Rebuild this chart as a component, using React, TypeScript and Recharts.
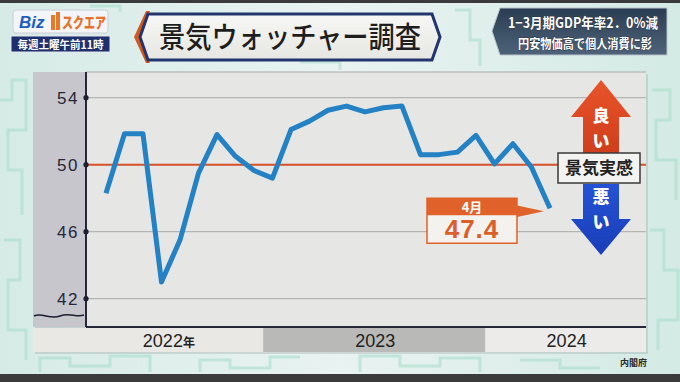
import React from 'react';
import {
  LineChart,
  Line,
  XAxis,
  YAxis,
  CartesianGrid,
  ReferenceLine,
  ReferenceArea,
  ReferenceDot,
} from 'recharts';

// ---- data ----
const categories = [
  '2022/4', '2022/5', '2022/6', '2022/7', '2022/8', '2022/9', '2022/10', '2022/11', '2022/12',
  '2023/1', '2023/2', '2023/3', '2023/4', '2023/5', '2023/6', '2023/7', '2023/8', '2023/9',
  '2023/10', '2023/11', '2023/12', '2024/1', '2024/2', '2024/3', '2024/4',
];
const watcherDI = [
  48.3, 51.85, 51.85, 43.0, 45.5, 49.5, 51.8, 50.5, 49.65,
  49.2, 52.1, 52.6, 53.25, 53.5, 53.15, 53.4, 53.5, 50.6,
  50.6, 50.75, 51.75, 50.05, 51.25, 49.85, 47.4,
];
const yTicks = [42, 46, 50, 54];
const baselineValue = 50;
const yearLabels = ['2022年', '2023', '2024'];
const yearLabelPos = [3.4, 14.56, 24.9];
const yearBandStart = [-3.95, 8.5, 20.5];
const yearBandEnd = [8.5, 20.5, 29.19];
const latestMonthLabel = '4月';
const latestValueLabel = '47.4';

const data = categories.map((m, i) => ({ i, month: m, v: watcherDI[i] }));

const JP = '"Noto Sans CJK JP", "Noto Sans", sans-serif';
const NUM = '"Liberation Sans", Arial, sans-serif';

const bandFills = ['#e9e8e5', '#b9b9b8', '#ecebe9'];

const YTick = (props: any) => {
  const { x, y, payload } = props;
  return (
    <g>
      <text
        x={x - 7}
        y={y}
        dy={6}
        textAnchor="end"
        fontSize={17}
        letterSpacing={1.5}
        fill="#25273a"
        fontFamily={NUM}
      >
        {payload.value}
      </text>
      <circle cx={x} cy={y} r={2.6} fill="#1c1e33" />
    </g>
  );
};

const XTick = (props: any) => {
  const { x, y, index } = props;
  const label: string = yearLabels[index] ?? '';
  const hasNen = label.endsWith('年');
  const num = hasNen ? label.slice(0, -1) : label;
  return (
    <text
      x={x}
      y={y + 20}
      textAnchor="middle"
      fontSize={18}
      fill="#222"
      fontFamily={NUM}
    >
      {num}
      {hasNen && (
        <tspan fontSize={12} fontFamily={JP} fontWeight={700}>
          年
        </tspan>
      )}
    </text>
  );
};

const Callout = (props: any) => {
  const { cx, cy } = props;
  if (cx == null || cy == null) return <g />;
  const left = cx - 123;
  const right = cx - 33;
  const top = cy - 10;
  const mid = (left + right) / 2;
  return (
    <g>
      <polygon
        points={`${right - 1},${cy - 3} ${right - 1},${cy + 9} ${cx - 6},${cy + 3}`}
        fill="#e0622a"
      />
      <rect x={left} y={top} width={right - left} height={45} fill="#f4f2ee" stroke="#e0622a" strokeWidth={1.5} />
      <rect x={left} y={top} width={right - left} height={17} fill="#e0622a" />
      <text
        x={mid}
        y={top + 13.5}
        textAnchor="middle"
        fontSize={13}
        fontWeight={700}
        fill="#fff"
        fontFamily={JP}
      >
        {latestMonthLabel}
      </text>
      <text
        x={mid}
        y={top + 40}
        textAnchor="middle"
        fontSize={26}
        fontWeight={700}
        letterSpacing={1}
        fill="#d9602a"
        fontFamily={NUM}
      >
        {latestValueLabel}
      </text>
    </g>
  );
};

const Background = () => (
  <svg width={680} height={382} style={{ position: 'absolute', left: 0, top: 0 }}>
    <defs>
      <linearGradient id="bg" x1="0" y1="0" x2="1" y2="0">
        <stop offset="0" stopColor="#d6ebe6" />
        <stop offset="0.5" stopColor="#e9f3f1" />
        <stop offset="1" stopColor="#d4eae4" />
      </linearGradient>
    </defs>
    <rect x={0} y={0} width={680} height={382} fill="url(#bg)" />
    <g fill="none" stroke="#a9dfcb" strokeWidth={3} opacity={0.6}>
      <path d="M0,100 L12,100 L12,80 L26,80 L26,130 L8,130 L8,170 L22,170 L22,215" />
      <path d="M4,240 L20,240 L20,280 L8,280 L8,330 L26,330 L26,360" />
      <path d="M40,372 L40,358 L70,358 L70,366 L110,366 L110,356 L150,356 L150,372" />
      <path d="M200,372 L200,360 L230,360 L230,368 L270,368 L270,357 L300,357" />
      <path d="M360,372 L360,356 L400,356 L400,366 L440,366 L440,358 L480,358 L480,372" />
      <path d="M520,360 L560,360 L560,368 L600,368" />
      <path d="M652,90 L670,90 L670,120 L656,120 L656,160 L676,160 L676,200" />
      <path d="M650,230 L664,230 L664,270 L678,270 L678,320 L658,320 L658,350" />
      <path d="M90,6 L120,6 L120,12" />
      <path d="M455,10 L470,10 L470,40 L480,40 L480,66" />
      <path d="M300,62 L340,62 L340,70" />
    </g>
    <rect x={0} y={0} width={680} height={3} fill="#3a3a3a" />
    <rect x={0} y={374} width={680} height={8} fill="#3b3b3b" />
    {/* chart panel */}
    <rect x={35} y={74} width={613} height={280} fill="#9aa5a3" opacity={0.35} />
    <rect x={33} y={72} width={613} height={255} fill="#e6e6e4" />
    <rect x={33} y={72} width={53} height={255} fill="#c7c6cc" />
  </svg>
);

const Overlay = () => (
  <svg
    width={680}
    height={382}
    style={{ position: 'absolute', left: 0, top: 0, pointerEvents: 'none' }}
  >
    <defs>
      <linearGradient id="rb" x1="0" y1="0" x2="0" y2="1">
        <stop offset="0" stopColor="#2a3c52" />
        <stop offset="1" stopColor="#4e6379" />
      </linearGradient>
      <linearGradient id="tb" x1="0" y1="0" x2="0" y2="1">
        <stop offset="0" stopColor="#f7f7f5" />
        <stop offset="1" stopColor="#e6e6e2" />
      </linearGradient>
      <linearGradient id="up" x1="0" y1="0" x2="0" y2="1">
        <stop offset="0" stopColor="#e8542a" />
        <stop offset="1" stopColor="#cf3e1c" />
      </linearGradient>
      <linearGradient id="dn" x1="0" y1="0" x2="0" y2="1">
        <stop offset="0" stopColor="#2353d4" />
        <stop offset="1" stopColor="#1a3db8" />
      </linearGradient>
    </defs>

    {/* logo */}
    <rect x={13} y={10} width={95} height={23} rx={3} fill="#f3f5f8" stroke="#c9cfd8" />
    <text x={19} y={28} fontSize={17} fontWeight={900} fill="#1d5fbf" fontFamily={NUM} fontStyle="italic">
      Biz
    </text>
    <rect x={51} y={15} width={4} height={15} fill="#e77a2a" />
    <rect x={56} y={12} width={4} height={18} fill="#e77a2a" />
    <text x={62} y={28} fontSize={15} fontWeight={900} fill="#e8712a" fontFamily={JP} textLength={44} lengthAdjust="spacingAndGlyphs">
      スクエア
    </text>
    <rect x={11} y={36} width={99} height={16} fill="#1d2f6c" stroke="#e6e8f0" strokeWidth={1} />
    <text x={60.5} y={48.5} textAnchor="middle" fontSize={11} fontWeight={700} fill="#fff" fontFamily={JP} textLength={86} lengthAdjust="spacingAndGlyphs">
      毎週土曜午前11時
    </text>

    {/* title */}
    <polygon points="146,11 134,37 146,63 150,63 139,37 150,11" fill="#d4571c" />
    <polygon points="148,14 432,14 440,37 432,60 148,60 140,37" fill="url(#tb)" stroke="#22356f" strokeWidth={3} />
    <text x={290} y={48} textAnchor="middle" fontSize={29} fontWeight={500} fill="#1e1e1e" fontFamily={JP} textLength={262} lengthAdjust="spacingAndGlyphs">
      景気ウォッチャー調査
    </text>

    {/* right headline */}
    <polygon points="500,8 667,8 667,55 500,55 492,31" fill="url(#rb)" stroke="#b9c3cc" strokeWidth={1} />
    <text x={583} y={28} textAnchor="middle" fontSize={14} fontWeight={700} fill="#fff" fontFamily={JP} textLength={150} lengthAdjust="spacingAndGlyphs" stroke="#1a2230" strokeWidth={0.6} paintOrder="stroke">
      1−3月期GDP年率2．0%減
    </text>
    <text x={585} y={48} textAnchor="middle" fontSize={13} fontWeight={700} fill="#fff" fontFamily={JP} textLength={134} lengthAdjust="spacingAndGlyphs" stroke="#1a2230" strokeWidth={0.6} paintOrder="stroke">
      円安物価高で個人消費に影
    </text>

    {/* break mark */}
    <path d="M34,316 C42,312 50,320 60,316 C70,312 76,318 84,315" fill="none" stroke="#1c1e33" strokeWidth={1.6} />

    {/* arrows */}
    <polygon points="601,80 631,117 619,117 619,153 583,153 583,117 571,117" fill="url(#up)" />
    <text x={601} y={122} textAnchor="middle" fontSize={17} fontWeight={900} fill="#fff" fontFamily={JP}>良</text>
    <text x={601} y={147} textAnchor="middle" fontSize={17} fontWeight={900} fill="#fff" fontFamily={JP}>い</text>
    <polygon points="583,184 619,184 619,219 631,219 601,255 571,219 583,219" fill="url(#dn)" />
    <text x={601} y={203} textAnchor="middle" fontSize={17} fontWeight={900} fill="#fff" fontFamily={JP}>悪</text>
    <text x={601} y={228} textAnchor="middle" fontSize={17} fontWeight={900} fill="#fff" fontFamily={JP}>い</text>
    <rect x={558} y={153} width={82} height={30} fill="#f3f3f1" stroke="#3a3a3a" strokeWidth={1.5} />
    <text x={599} y={174} textAnchor="middle" fontSize={17} fontWeight={700} fill="#222" fontFamily={JP}>
      景気実感
    </text>

    {/* source */}
    <text x={647} y={366} textAnchor="end" fontSize={9} fontWeight={700} fill="#2a2a2a" fontFamily={JP}>
      内閣府
    </text>
  </svg>
);

export default function App() {
  return (
    <div
      style={{
        position: 'absolute',
        left: 0,
        top: 0,
        width: 680,
        height: 382,
        overflow: 'hidden',
      }}
    >
      <Background />
      <div style={{ position: 'absolute', left: 0, top: 0 }}>
        <LineChart
          width={680}
          height={382}
          data={data}
          margin={{ top: 72, right: 34, bottom: 0, left: 36 }}
        >
          <CartesianGrid horizontal vertical={false} stroke="#a8a8a8" strokeWidth={1} />
          {yearLabels.map((lbl, k) => (
            <ReferenceArea
              key={lbl}
              x1={yearBandStart[k]}
              x2={yearBandEnd[k]}
              y1={38.82}
              y2={40.25}
              fill={bandFills[k]}
              fillOpacity={1}
              stroke="none"
              ifOverflow="visible"
            />
          ))}
          <XAxis
            type="number"
            dataKey="i"
            domain={[-1.08, 29.19]}
            ticks={yearLabelPos}
            tick={<XTick />}
            tickLine={false}
            tickSize={0}
            tickMargin={0}
            height={55}
            axisLine={{ stroke: '#26283a', strokeWidth: 2 }}
            interval={0}
            allowDataOverflow
          />
          <YAxis
            type="number"
            domain={[40.31, 55.534]}
            ticks={yTicks}
            tick={<YTick />}
            tickLine={false}
            tickSize={0}
            tickMargin={0}
            width={50}
            axisLine={{ stroke: '#26283a', strokeWidth: 2 }}
            allowDataOverflow
            interval={0}
          />
          <ReferenceLine y={baselineValue} stroke="#d8522a" strokeWidth={2} />
          <Line
            type="linear"
            dataKey="v"
            stroke="#2381c4"
            strokeWidth={5}
            dot={false}
            strokeLinejoin="round"
            isAnimationActive={false}
          />
          <ReferenceDot
            x={categories.length - 1}
            y={watcherDI[watcherDI.length - 1]}
            r={0}
            ifOverflow="visible"
            shape={<Callout />}
          />
        </LineChart>
      </div>
      <Overlay />
    </div>
  );
}
